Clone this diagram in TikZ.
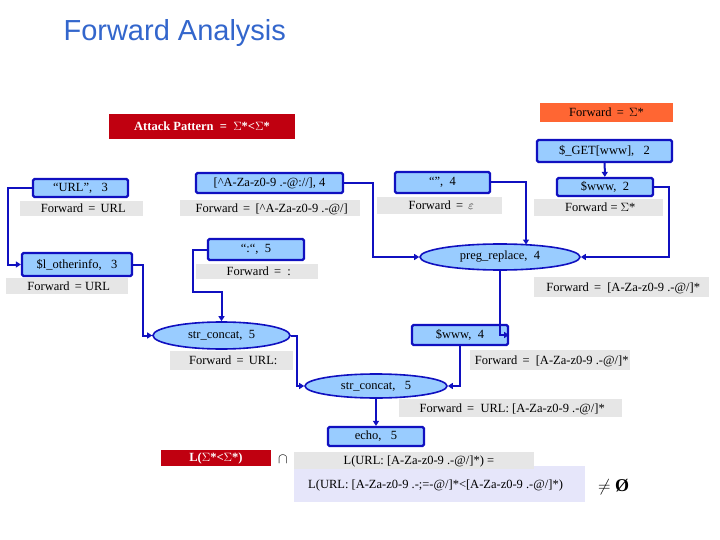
\documentclass[tikz,border=0pt]{standalone}
\usepackage{fontspec}
\setmainfont{Liberation Serif}
\newfontfamily\titlefont{Liberation Sans}
\usetikzlibrary{shapes.geometric,arrows.meta}
\definecolor{bblue}{HTML}{1010C0}
\definecolor{lblue}{HTML}{99CCFF}
\definecolor{lgray}{HTML}{E6E6E6}
\definecolor{dred}{HTML}{C00010}
\definecolor{orng}{HTML}{FF6633}
\definecolor{lav}{HTML}{E6E6FA}
\definecolor{ttl}{HTML}{3366CC}
\tikzset{
  bx/.style={draw=bblue,line width=2.2pt,fill=lblue,rounded corners=1.5pt,inner sep=0pt,font=\fontsize{12.5}{13}\selectfont},
  el/.style={ellipse,draw=bblue,line width=1.6pt,fill=lblue,inner sep=0pt,font=\fontsize{12.5}{13}\selectfont},
  gl/.style={fill=lgray,inner sep=0pt,anchor=west,font=\fontsize{12.5}{13}\selectfont,text depth=0pt},
  conn/.style={draw=bblue,line width=2pt,-{Triangle[length=5pt,width=6pt]}},
}
\begin{document}
\begin{tikzpicture}[x=1pt,y=-1pt]
\useasboundingbox (0,0) rectangle (720,540);
\node[anchor=west,text=ttl,font=\titlefont\fontsize{29}{32}\selectfont] (title) at (60,33) {Forward Analysis};
\node[fill=dred,text=white,minimum width=186pt,minimum height=25pt,inner sep=0pt,font=\bfseries\fontsize{12.5}{13}\selectfont] (ap) at (202,126.5) {Attack Pattern \ = \ $\Sigma$*<$\Sigma$*};
\node[fill=orng,minimum width=133pt,minimum height=19pt,inner sep=0pt,font=\fontsize{12.5}{13}\selectfont] (fo) at (606.5,112.5) {Forward \,= \,$\Sigma$*};
% boxes
\node[bx,minimum width=135pt,minimum height=22pt] (get) at (604.5,151) {\$\_GET[www], \ \ 2};
\node[bx,minimum width=96pt,minimum height=18pt] (www2) at (605,187) {\$www, \ 2};
\node[gl,minimum width=129pt,minimum height=17pt] (l1) at (534,207.5) {\ Forward = $\Sigma$*};
\node[bx,minimum width=95pt,minimum height=21pt] (emp) at (442.5,182.5) {``'', \ 4};
\node[gl,minimum width=125pt,minimum height=17pt] (l2) at (377,205.5) {\ Forward \,= \,$\varepsilon$};
\node[bx,minimum width=147pt,minimum height=20pt] (rx) at (269.5,183) {[\textasciicircum A-Za-z0-9 .-@://], 4};
\node[gl,minimum width=180pt,minimum height=16pt] (l3) at (180,208) {\ Forward \,= \,[\textasciicircum A-Za-z0-9 .-@/]};
\node[bx,minimum width=95pt,minimum height=18pt] (url) at (80.5,188) {``URL'', \ \ 3};
\node[gl,minimum width=123pt,minimum height=15pt] (l4) at (20,208.5) {\ Forward \,= \,URL};
\node[bx,minimum width=110pt,minimum height=23pt] (oth) at (77,264.5) {\$l\_otherinfo, \ \ 3};
\node[gl,minimum width=122pt,minimum height=16pt] (l5) at (6,286) {\ Forward \,= URL};
\node[bx,minimum width=96pt,minimum height=21pt] (col) at (256,249.5) {``:``, \ 5};
\node[gl,minimum width=122pt,minimum height=15pt] (l6) at (196,271.5) {\ Forward \,= \ :};
\node[el,minimum width=160pt,minimum height=26pt] (preg) at (500,257) {preg\_replace, \ 4};
\node[gl,minimum width=175pt,minimum height=20pt] (l7) at (534,287) {\ Forward \,= \ [A-Za-z0-9 .-@/]*};
\node[el,minimum width=137pt,minimum height=27pt] (sc1) at (221.5,335.5) {str\_concat, \ 5};
\node[gl,minimum width=123pt,minimum height=19pt] (l8) at (170,360.5) {\ Forward \,= \,URL:};
\node[bx,minimum width=96pt,minimum height=20pt] (www4) at (460,335) {\$www, \ 4};
\node[gl,minimum width=160pt,minimum height=20pt] (l9) at (470,360) {\ Forward \,= \ [A-Za-z0-9 .-@/]*};
\node[el,minimum width=142pt,minimum height=24pt] (sc2) at (376,386) {str\_concat, \ \ 5};
\node[gl,minimum width=223pt,minimum height=18pt] (l10) at (399,408) {\ Forward \,= \ URL: [A-Za-z0-9 .-@/]*};
\node[bx,minimum width=96pt,minimum height=19pt] (echo) at (376,436.5) {echo, \ \ 5};
\node[fill=dred,text=white,minimum width=110pt,minimum height=16pt,inner sep=0pt,font=\bfseries\fontsize{12.5}{13}\selectfont] (lsig) at (216,458) {L($\Sigma$*<$\Sigma$*)};
\node[font=\fontsize{15}{16}\selectfont] (cap) at (283,459) {$\cap$};
\node[fill=lav,minimum width=291pt,minimum height=36pt,inner sep=0pt,anchor=north west] (res) at (294,466) {};
\node[gl,minimum width=240pt,minimum height=17pt] (l11) at (294,460.5) {\ \ \ L(URL: [A-Za-z0-9 .-@/]*) =};
\node[anchor=west,inner sep=0pt,font=\fontsize{12.5}{13}\selectfont] (rest) at (308,485) {L(URL: [A-Za-z0-9 .-;=-@/]*<[A-Za-z0-9 .-@/]*)};
\node[anchor=west,inner sep=0pt,font=\fontsize{18}{20}\selectfont] (ne) at (598,487) {$\neq$ \textbf{\O}};
% connectors
\draw[conn] (get) -- (www2);
\draw[conn] (www2.east) -- (669,187) |- (preg.east);
\draw[conn] (emp.east) -| (526,244.5);
\draw[conn] (rx.east) -- (373,183) |- (preg.west);
\draw[conn] (url.west) -- (8,188) |- (oth.west);
\draw[conn] (oth.east) -- (143,264.5) |- (sc1.west);
\draw[conn] (col.west) -- (193,249.5) -- (193,292) -| (sc1.north);
\draw[conn] (preg.south) |- (www4.east);
\draw[conn] (sc1.east) -- (297,335.5) |- (sc2.west);
\draw[conn] (www4.south) |- (sc2.east);
\draw[conn] (sc2) -- (echo);
\end{tikzpicture}
\end{document}
